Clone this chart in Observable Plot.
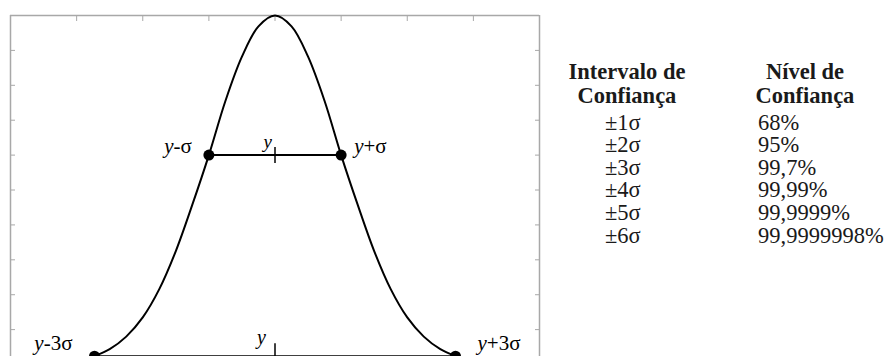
<!DOCTYPE html>
<html><head><meta charset="utf-8">
<script src="https://cdn.jsdelivr.net/npm/d3@7"></script>
<script src="https://cdn.jsdelivr.net/npm/@observablehq/plot@0.6"></script>
<style>
body{margin:0;background:#fff;}
#wrap{position:relative;width:887px;height:356px;overflow:hidden;background:#fff;font-family:"Liberation Serif","DejaVu Serif","Times New Roman",serif;}
#chart{position:absolute;left:0;top:0;}
#table{position:absolute;left:0;top:0;}
</style></head><body>
<div id="wrap"><div id="chart"></div><svg id="table" width="887" height="356"></svg></div>
<script>
// Curve (x in σ units, height relative to the peak)
const curveX = [-2.73,-2.5,-2.25,-2,-1.75,-1.5,-1.25,-1,-0.75,-0.5,-0.25,0,0.25,0.5,0.75,1,1.25,1.5,1.75,2,2.25,2.5,2.73];
const curveY = [0.024,0.044,0.080,0.135,0.216,0.325,0.458,0.600,0.755,0.882,0.969,1,0.969,0.882,0.755,0.600,0.458,0.325,0.216,0.135,0.080,0.044,0.024];
// Marked points
const markerX = [-1, 1, -2.73, 2.73];
const markerY = [0.600, 0.600, 0.024, 0.024];
const markerLabels = ["y-σ", "y+σ", "y-3σ", "y+3σ"];
const meanLabel = "y";
const meanX = 0;
// Frame ticks
const xDomain = [-4, 4];
const yDomain = [0.023, 1];
const xTicks = [-3, -2, -1, 0, 1, 2, 3];
const yTicks = [0.1, 0.2, 0.3, 0.4, 0.5, 0.6, 0.7, 0.8, 0.9];
// Table
const headerInterval = ["Intervalo de", "Confiança"];
const headerLevel = ["Nível de", "Confiança"];
const intervals = ["±1σ", "±2σ", "±3σ", "±4σ", "±5σ", "±6σ"];
const levels = ["68%", "95%", "99,7%", "99,99%", "99,9999%", "99,9999998%"];

const serif = "'Liberation Serif', 'DejaVu Serif', 'Times New Roman', serif";
const curve = curveX.map((x, i) => ({x, y: curveY[i]}));
const markers = markerX.map((x, i) => ({x, y: markerY[i], label: markerLabels[i]}));
const spans = [
  {x1: markerX[0], x2: markerX[1], y: markerY[0], m: meanX},
  {x1: markerX[2], x2: markerX[3], y: markerY[2], m: meanX}
];
const vbar = {draw(ctx, size) { const h = Math.sqrt(size / Math.PI); ctx.moveTo(0, -h); ctx.lineTo(0, h); }};
const gray = "#a8a8a8";
const labelFont = 21;

const chart = Plot.plot({
  width: 548, height: 356,
  marginLeft: 10, marginRight: 9, marginTop: 15, marginBottom: 0,
  x: {domain: xDomain},
  y: {domain: yDomain},
  style: {fontFamily: serif, background: "white", overflow: "visible"},
  marks: [
    Plot.ruleX(xDomain, {stroke: gray, strokeWidth: 1.5}),
    Plot.ruleY([yDomain[1]], {stroke: gray, strokeWidth: 1.5}),
    Plot.axisX(xTicks, {anchor: "top", tickSize: -5, tickFormat: () => "", label: null, stroke: gray}),
    Plot.axisY(yTicks, {anchor: "left", tickSize: -5, tickFormat: () => "", label: null, stroke: gray}),
    Plot.axisY(yTicks, {anchor: "right", tickSize: -5, tickFormat: () => "", label: null, stroke: gray}),
    Plot.link(spans, {x1: "x1", x2: "x2", y1: "y", y2: "y", stroke: "black", strokeWidth: 2}),
    Plot.line(curve, {x: "x", y: "y", curve: "catmull-rom", stroke: "black", strokeWidth: 2}),
    Plot.dot(markers, {x: "x", y: "y", r: 5.5, fill: "black"}),
    Plot.dot([spans[0]], {x: "m", y: "y", symbol: vbar, r: 8, stroke: "black", strokeWidth: 1.5, fill: "none"}),
    Plot.dot([spans[1]], {x: "m", y: "y", symbol: vbar, r: 13, stroke: "black", strokeWidth: 1.5, fill: "none"}),
    Plot.text([spans[0]], {x: "m", y: "y", text: () => meanLabel, textAnchor: "end", lineAnchor: "bottom", dx: -3, dy: -7, fontSize: 19}),
    Plot.text([spans[1]], {x: "m", y: "y", text: () => meanLabel, textAnchor: "end", lineAnchor: "bottom", dx: -9, dy: -12, fontSize: 20}),
    Plot.text([markers[0]], {x: "x", y: "y", text: "label", textAnchor: "end", lineAnchor: "bottom", dx: -17, dy: -2, fontSize: labelFont}),
    Plot.text([markers[1]], {x: "x", y: "y", text: "label", textAnchor: "start", lineAnchor: "bottom", dx: 13, dy: -2, fontSize: labelFont}),
    Plot.text([markers[2]], {x: "x", y: "y", text: "label", textAnchor: "end", lineAnchor: "bottom", dx: -22, dy: -6, fontSize: labelFont}),
    Plot.text([markers[3]], {x: "x", y: "y", text: "label", textAnchor: "start", lineAnchor: "bottom", dx: 22, dy: -6, fontSize: labelFont})
  ]
});
// italic y in labels
chart.querySelectorAll("text").forEach(t => {
  const s = t.textContent;
  if (s && s[0] === "y" && t.children.length === 0) {
    t.textContent = "";
    const a = document.createElementNS("http://www.w3.org/2000/svg", "tspan");
    a.setAttribute("font-style", "italic"); a.textContent = "y"; t.appendChild(a);
    if (s.length > 1) {
      const b = document.createElementNS("http://www.w3.org/2000/svg", "tspan");
      b.textContent = s.slice(1); t.appendChild(b);
    }
  }
});
document.getElementById("chart").appendChild(chart);

// Table
const tbl = d3.select("#table").style("font-family", serif).attr("fill", "#1a1a1a");
const headBase = [79, 103];
const rowBase = 129.5, rowStep = 22.6;
headerInterval.forEach((s, i) => tbl.append("text").attr("x", 627).attr("y", headBase[i]).attr("text-anchor", "middle").attr("font-weight", "bold").attr("font-size", 22.5).text(s));
headerLevel.forEach((s, i) => tbl.append("text").attr("x", 805).attr("y", headBase[i]).attr("text-anchor", "middle").attr("font-weight", "bold").attr("font-size", 22.5).text(s));
intervals.forEach((s, i) => tbl.append("text").attr("x", 605).attr("y", rowBase + rowStep * i).attr("font-size", 22.5).text(s));
levels.forEach((s, i) => tbl.append("text").attr("x", 758).attr("y", rowBase + rowStep * i).attr("font-size", 22.5).text(s));
</script></body></html>
